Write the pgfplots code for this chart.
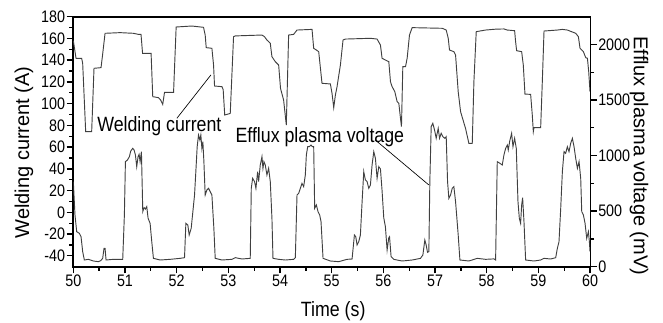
\documentclass[border=0pt]{standalone}
\usepackage{fontspec}
\setmainfont{Liberation Sans}[FakeStretch=0.86]
\newfontfamily\vfont{Liberation Sans}
\usepackage{pgfplots}
\pgfplotsset{compat=1.18}

\pgfplotstableread{
t I
50.000 158
50.052 141.7
50.161 141.7
50.181 137.1
50.239 74.2
50.355 74.2
50.400 132.5
50.536 133.1
50.562 143.2
50.614 164.7
50.904 165.3
51.163 164.7
51.26 163.7
51.31 163.7
51.34 146.3
51.505 146.3
51.537 106.4
51.647 105.5
51.69 103.3
51.73 99.3
51.765 110.4
51.94 110.4
51.99 170.5
52.294 171.4
52.52 170.2
52.552 163.1
52.572 151.5
52.682 150.9
52.714 135.5
52.733 116.2
52.876 115.6
52.90 113
52.93 89.5
53.037 91.0
53.101 161.6
53.134 162.3
53.65 163.1
53.70 161.6
53.747 158.5
53.812 155.5
53.844 143.2
53.909 138.6
53.974 135.5
54.01 114
54.07 103.3
54.122 80.3
54.167 163.1
54.264 163.7
54.329 167.7
54.62 168.3
54.652 150.9
54.704 149.3
54.749 147.8
54.813 118.7
54.975 118.1
55.007 109.4
55.04 96.3
55.072 107.9
55.104 115.6
55.169 135.5
55.22 158.5
55.266 159.4
55.75 160.1
55.879 159.4
55.944 153.9
55.976 141.7
56.041 140.1
56.106 138.6
56.138 120.2
56.17 115.6
56.222 111.0
56.267 101.8
56.30 100.2
56.332 86.4
56.351 78.8
56.377 134.0
56.429 134.0
56.461 141.7
56.506 163.1
56.558 169.9
57.14 169.3
57.217 167.7
57.256 160.1
57.281 149.3
57.365 147.8
57.398 144.7
57.449 111.0
57.495 92.6
57.591 77.2
57.656 63.4
57.721 63.4
57.753 120.2
57.798 166.2
57.979 167.7
58.173 168.5
58.334 168.7
58.399 167.7
58.541 167.1
58.56 157
58.58 148.7
58.677 147.8
58.709 135.5
58.741 108.8
58.851 108.5
58.883 89.5
58.903 74.2
58.916 77.9
59.045 77.9
59.077 120.2
59.11 166.8
59.368 167.7
59.465 168.3
59.562 167.7
59.723 164.7
59.775 161.6
59.807 150.9
59.872 147.8
59.917 142.3
59.95 141.7
59.975 129.4
60.0 111
}\currenttable

\pgfplotstableread{
t V
50.0 765
50.032 465
50.065 315
50.116 300
50.149 270
50.181 135
50.213 60
50.291 66
50.388 51
50.484 45
50.53 54
50.568 75
50.594 165
50.614 165
50.633 60
50.775 66
50.956 66
50.988 465
51.008 945
51.047 960
51.085 990
51.111 1041
51.15 1065
51.176 1050
51.202 1005
51.227 900
51.253 990
51.273 1011
51.292 945
51.318 1035
51.344 495
51.37 531
51.395 519
51.421 540
51.447 435
51.486 390
51.518 225
51.55 75
51.68 60
51.873 66
52.067 75
52.152 81
52.178 390
52.216 375
52.242 285
52.281 345
52.307 465
52.346 645
52.378 915
52.397 1080
52.423 1185
52.449 1140
52.468 1185
52.488 1065
52.507 1125
52.527 945
52.552 645
52.585 690
52.617 705
52.649 675
52.682 645
52.72 345
52.746 75
52.875 60
53.069 66
53.134 81
53.263 69
53.424 75
53.444 705
53.47 795
53.508 765
53.534 705
53.567 855
53.586 765
53.618 915
53.651 990
53.67 885
53.689 945
53.715 915
53.747 825
53.78 885
53.812 765
53.844 435
53.864 75
53.974 66
54.103 60
54.264 66
54.297 81
54.329 645
54.361 660
54.394 705
54.426 750
54.458 720
54.49 825
54.51 1005
54.536 1080
54.568 1080
54.60 1095
54.626 1080
54.652 1080
54.671 525
54.704 555
54.736 495
54.768 465
54.794 405
54.833 75
54.975 51
55.136 45
55.298 66
55.395 69
55.44 285
55.466 270
55.492 195
55.524 225
55.556 285
55.589 585
55.621 855
55.653 780
55.686 765
55.718 705
55.75 735
55.782 915
55.815 1035
55.847 975
55.879 795
55.912 900
55.944 880
55.976 680
56.008 440
56.04 360
56.073 150
56.105 260
56.12 270
56.15 90
56.202 66
56.364 51
56.558 60
56.719 75
56.765 105
56.803 240
56.829 195
56.855 129
56.881 135
56.90 765
56.926 1260
56.958 1290
56.991 1230
57.023 1155
57.062 1245
57.088 1155
57.12 1200
57.152 1170
57.191 1155
57.217 1170
57.243 765
57.268 615
57.301 645
57.333 705
57.365 720
57.398 585
57.449 285
57.482 60
57.656 51
57.818 75
57.979 66
58.141 70
58.173 60
58.205 945
58.257 930
58.302 915
58.334 1005
58.367 1065
58.399 1095
58.418 1050
58.444 1125
58.483 1200
58.509 1080
58.541 1155
58.573 1065
58.606 585
58.632 435
58.657 390
58.677 555
58.696 621
58.722 405
58.754 60
58.916 51
59.045 60
59.11 75
59.239 69
59.336 81
59.368 165
59.40 225
59.433 525
59.465 855
59.497 1035
59.529 1020
59.562 1080
59.594 1035
59.626 1110
59.659 1155
59.691 1080
59.723 975
59.756 885
59.788 945
59.82 795
59.84 495
59.872 465
59.904 390
59.936 255
59.969 315
59.988 225
60.0 135
}\voltagetable

\pgfplotsset{
  common/.style={
    scale only axis, width=387.5pt, height=187.5pt,
    xmin=50, xmax=60,
    tick align=outside,
    major tick length=5pt, minor tick length=3pt,
    every tick/.style={line width=1pt, black},
    /pgf/number format/assume math mode=true,
    /pgf/number format/1000 sep={},
    ticklabel style={font=\fontsize{12.5}{14}\selectfont, inner sep=1pt},
  },
}

\begin{document}
\begin{tikzpicture}
\begin{axis}[
  common,
  clip=false,
  ymin=-50, ymax=180,
  axis x line*=bottom, axis y line*=left,
  axis line style={line width=1.5pt, line cap=rect},
  xtick={50,51,...,60}, minor x tick num=1,
  ytick={-40,-20,...,180}, minor y tick num=1,
  xlabel={Time (s)},
  ylabel={\vfont Welding current (A)},
  every axis x label/.style={at={(axis description cs:0.503,-0.2)}, anchor=base, font=\fontsize{15.5}{18}\selectfont},
  every axis y label/.style={at={(axis description cs:-0.0954,0.457)}, rotate=90, anchor=center, font=\fontsize{15}{18}\selectfont},
]
\coordinate (O) at (rel axis cs:0,0);
\draw[line width=1.5pt, line cap=rect] (rel axis cs:0,1) -- (rel axis cs:1,1);
\addplot[black!75, line width=0.7pt, mark=none] table[x=t, y=I] {\currenttable};
\node[anchor=base west, inner sep=0pt, font=\fontsize{15.5}{18}\selectfont] at (axis cs:50.459,73.9) {Welding current};
\node[anchor=base west, inner sep=0pt, font=\fontsize{15.5}{18}\selectfont] at (axis cs:53.134,63.8) {Efflux plasma voltage};
\draw[black, line width=0.5pt] (axis cs:52.004,86.5) -- (axis cs:52.663,126.4);
\draw[black, line width=0.5pt] (axis cs:55.843,66.6) -- (axis cs:56.88,25.2);
\end{axis}
\begin{axis}[
  common,
  ymin=0, ymax=2250,
  axis y line*=right, axis x line=none,
  axis line style={line width=0.75pt},
  ytick={0,500,...,2000}, minor y tick num=1,
  ylabel={\vfont Efflux plasma voltage (mV)},
  every axis y label/.style={at={(axis description cs:1.095,0.443)}, rotate=-90, anchor=center, font=\fontsize{15}{18}\selectfont},
]
\addplot[black!75, line width=0.7pt, mark=none] table[x=t, y=V] {\voltagetable};
\end{axis}
\pgfresetboundingbox
\path[use as bounding box] (O) ++(-55pt,-41.5pt) rectangle ++(497.25pt,241.5pt);
\end{tikzpicture}
\end{document}
